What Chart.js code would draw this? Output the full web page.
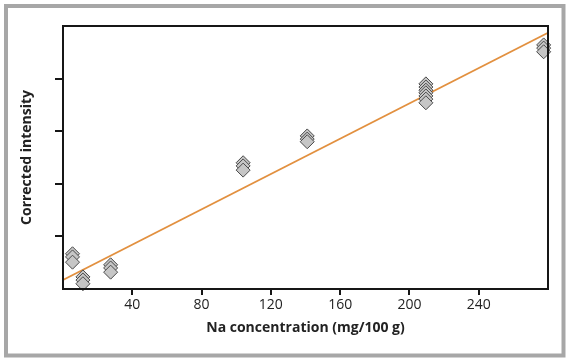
<!DOCTYPE html>
<html>
<head>
<meta charset="utf-8">
<script src="https://cdn.jsdelivr.net/npm/chart.js@4/dist/chart.umd.min.js"></script>
<style>
  html, body { margin: 0; padding: 0; background: #fff; }
  #wrap { width: 572px; height: 360px; }
</style>
</head>
<body>
<div id="wrap"><canvas id="naChart" width="572" height="360"></canvas></div>
<script>
  // Na concentration (mg/100 g) of each standard, and the replicate intensities read for it
  const concentrations = [5.5, 11.5, 27.5, 104, 141, 209.5, 277.5];
  const replicates = [
    [0.67, 0.61, 0.51],
    [0.23, 0.17, 0.10],
    [0.46, 0.40, 0.32],
    [2.40, 2.34, 2.26],
    [2.91, 2.85, 2.80],
    [3.90, 3.84, 3.78, 3.73, 3.67, 3.61, 3.54],
    [4.64, 4.58, 4.51]
  ];
  // calibration line ends
  const fitX = [0, 280];
  const fitY = [0.17, 4.87];
  const xTicks = [40, 80, 120, 160, 200, 240];
  const yTicks = [1, 2, 3, 4];

  const points = [];
  concentrations.forEach((c, i) => {
    replicates[i].forEach(v => points.push({ x: c, y: v }));
  });
  const fitLine = fitX.map((x, i) => ({ x, y: fitY[i] }));

  const frame = {
    id: 'frame',
    beforeDraw(chart) {
      const ctx = chart.ctx;
      ctx.save();
      ctx.fillStyle = '#fff';
      ctx.fillRect(0, 0, chart.width, chart.height);
      ctx.strokeStyle = '#a7a7a7';
      ctx.lineWidth = 4;
      ctx.strokeRect(6, 6, 557.5, 349.5);
      ctx.restore();
    },
    afterDraw(chart) {
      const a = chart.chartArea;
      const ctx = chart.ctx;
      ctx.save();
      ctx.strokeStyle = '#161616';
      ctx.lineWidth = 2;
      ctx.strokeRect(a.left, a.top, a.right - a.left, a.bottom - a.top);
      ctx.restore();
    }
  };

  new Chart(document.getElementById('naChart'), {
    type: 'scatter',
    data: {
      datasets: [
        {
          label: 'Samples',
          data: points,
          order: 1,
          clip: false,
          pointStyle: 'rectRot',
          pointRadius: 7,
          pointHoverRadius: 7,
          backgroundColor: '#c6c6c6',
          borderColor: '#4a4a4a',
          borderWidth: 1
        },
        {
          label: 'Fit',
          type: 'line',
          data: fitLine,
          order: 2,
          borderColor: '#e2903f',
          borderWidth: 1.7,
          pointRadius: 0,
          fill: false
        }
      ]
    },
    options: {
      responsive: false,
      animation: false,
      layout: { padding: { left: 0, top: 26, right: 24, bottom: 0 } },
      plugins: {
        legend: { display: false },
        tooltip: { enabled: false }
      },
      scales: {
        x: {
          type: 'linear',
          min: 0,
          max: 280,
          afterBuildTicks: s => { s.ticks = xTicks.map(v => ({ value: v })); },
          afterFit: s => { s.height = 71; },
          border: { display: false },
          grid: { drawOnChartArea: false, tickLength: 6, color: '#161616', lineWidth: 2 },
          ticks: { color: '#222', padding: 2, font: { family: 'Open Sans', size: 14 } },
          title: {
            display: true,
            text: 'Na concentration (mg/100 g)',
            color: '#222',
            padding: { top: 0, bottom: 23.5 },
            font: { family: 'Open Sans', size: 14, weight: 'bold' }
          }
        },
        y: {
          type: 'linear',
          min: 0,
          max: 5,
          afterBuildTicks: s => { s.ticks = yTicks.map(v => ({ value: v })); },
          afterFit: s => { s.width = 63; },
          border: { display: false },
          grid: { drawOnChartArea: false, tickLength: 8, color: '#161616', lineWidth: 2 },
          ticks: { display: false },
          title: {
            display: true,
            text: 'Corrected intensity',
            color: '#222',
            padding: { top: 19, bottom: 0 },
            font: { family: 'Open Sans', size: 14, weight: 'bold' }
          }
        }
      }
    },
    plugins: [frame]
  });
</script>
</body>
</html>
